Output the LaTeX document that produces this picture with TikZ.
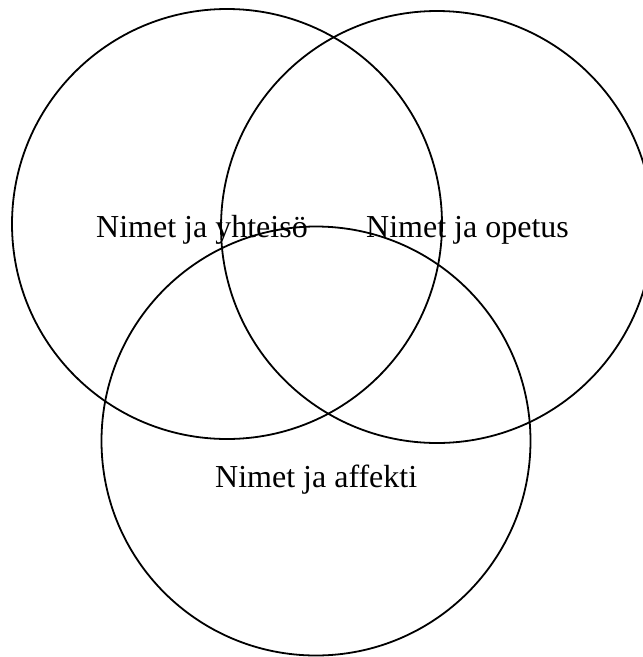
\documentclass[tikz,border=0pt]{standalone}
\usepackage{fontspec}
\setmainfont{Liberation Serif}
\begin{document}
\begin{tikzpicture}[x=1pt,y=-1pt,
  ring/.style={draw=black,line width=1.8pt},
  lbl/.style={anchor=base west,inner sep=0pt,font=\fontsize{32}{38}\selectfont}]
\useasboundingbox (0,0) rectangle (643,657);
\begin{scope}
\clip (0,0) rectangle (643,657);
\draw[ring] (227,224) circle[radius=215];
\draw[ring] (437,227) circle[radius=216];
\draw[ring] (316,441) circle[radius=214.5];
\end{scope}
\node[lbl] (a) at (96,237) {Nimet ja yhteisö};
\node[lbl] (b) at (366,237) {Nimet ja opetus};
\node[lbl] (c) at (215,487) {Nimet ja affekti};
\end{tikzpicture}
\end{document}
